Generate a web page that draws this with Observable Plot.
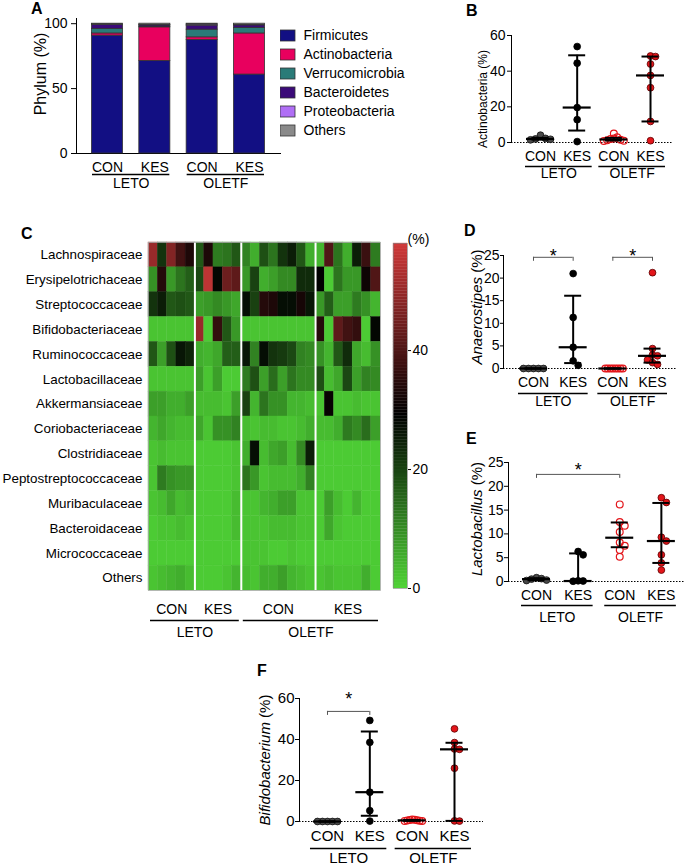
<!DOCTYPE html>
<html><head><meta charset="utf-8">
<script src="https://cdn.jsdelivr.net/npm/d3@7"></script>
<script src="https://cdn.jsdelivr.net/npm/@observablehq/plot@0.6"></script>
<style>
body{margin:0;background:#fff;font-family:"Liberation Sans",Arial,Helvetica,sans-serif}
#fig{position:relative;width:685px;height:865px;overflow:hidden;background:#fff}
.panel{position:absolute}
.letter{position:absolute;font-weight:bold;font-size:16px;line-height:1;color:#000}
</style></head>
<body><div id="fig"></div>
<script>
// ---------------- shared categories ----------------
const conditions = ["CON", "KES", "CON", "KES"];
const strains = ["LETO", "OLETF"];

// ---------------- Panel A: phylum composition (%) ----------------
const phyla = ["Firmicutes", "Actinobacteria", "Verrucomicrobia", "Bacteroidetes", "Proteobacteria", "Others"];
const phylumColors = ["#120f83", "#e8005e", "#2a7b78", "#3b0a78", "#b06ff5", "#8a8a8a"];
const firmicutes      = [90.8, 71.3, 87.4, 60.8];
const actinobacteria  = [1.7, 25.9, 2.1, 31.7];
const verrucomicrobia = [3.5, 0.5, 5.9, 4.2];
const bacteroidetes   = [3.0, 1.0, 3.1, 2.0];
const proteobacteria  = [0.3, 0.3, 0.8, 0.3];
const othersPhylum    = [0.7, 1.0, 0.7, 1.0];

// ---------------- Panel B: Actinobacteria (%) ----------------
const actinoLetoCon  = [4.1, 2.3, 2.0, 1.8, 1.5];
const actinoLetoKes  = [53.8, 44.5, 19.6, 12.8, 0.5];
const actinoOletfCon = [5.0, 2.9, 2.2, 1.9, 1.5, 1.2, 1.0, 0.8];
const actinoOletfKes = [48.5, 48.2, 44.0, 37.6, 30.7, 11.8, 1.0];
const actinoMedian = [2.0, 19.6, 1.7, 37.6];
const actinoQ1     = [1.6, 6.7, 1.1, 11.8];
const actinoQ3     = [2.6, 48.9, 2.6, 48.2];

// ---------------- Panel C: family heatmap (%) ----------------
const families = ["Lachnospiraceae", "Erysipelotrichaceae", "Streptococcaceae", "Bifidobacteriaceae",
  "Ruminococcaceae", "Lactobacillaceae", "Akkermansiaceae", "Coriobacteriaceae", "Clostridiaceae",
  "Peptostreptococcaceae", "Muribaculaceae", "Bacteroidaceae", "Micrococcaceae", "Others"];
const heatGroupSizes = [5, 5, 8, 7];
const heatmapValues = [
  [50,22,47,38,33, 17,33,12,13,17, 11,5,18,13,22,25,17,5, 4,40,13,5,25,37,12],
  [9,34,8,13,16, 19,55,28,44,42, 8,20,5,7,10,10,23,23, 29,1,13,8,8,31,40],
  [22,25,17,18,17, 7,8,10,8,6, 27,20,34,33,27,27,32,26, 8,16,7,7,12,9,4],
  [2,2,2,2,2, 50,1,36,17,8, 2,2,2,2,2,2,2,2, 34,1,42,38,36,1,28],
  [17,7,18,26,24, 5,4,6,16,16, 26,11,27,22,21,19,11,10, 9,4,17,23,6,3,9],
  [2,2,2,2,2, 7,2,7,1,1, 12,18,7,14,7,13,10,10, 18,3,6,19,7,11,10],
  [7,7,5,5,7, 3,3,3,2,7, 20,4,13,9,9,4,4,3, 2,30,2,2,3,2,2],
  [4,6,4,3,3, 6,2,9,9,11, 3,2,3,3,2,2,3,5, 3,3,5,12,10,14,7],
  [2,3,2,2,2, 1,1,1,1,2, 5,27,3,6,7,3,10,25, 1,1,1,1,1,1,1],
  [2,12,9,8,8, 1,1,1,1,2, 13,8,2,3,3,3,5,11, 1,1,1,1,1,1,1],
  [2,3,6,3,4, 1,1,1,1,3, 2,2,4,5,7,7,2,2, 1,7,3,1,4,1,1],
  [1,2,2,3,2, 1,1,1,1,3, 2,2,2,3,3,3,2,2, 1,6,2,1,1,1,1],
  [1,1,1,1,1, 1,1,1,1,1, 2,2,2,1,1,2,1,1, 1,1,1,1,1,1,1],
  [2,3,4,5,3, 1,1,1,2,4, 3,2,5,5,7,4,3,2, 2,3,2,2,2,5,1]
];
const heatTicks = [0, 20, 40];

// ---------------- Panel D: Anaerostipes (%) ----------------
const anaeroLetoCon  = [0, 0, 0, 0, 0];
const anaeroLetoKes  = [21.0, 11.3, 4.7, 1.7, 0.7];
const anaeroOletfCon = [0, 0, 0, 0, 0, 0, 0, 0];
const anaeroOletfKes = [21.2, 4.4, 3.0, 2.8, 1.9, 1.3, 0.9];
const anaeroMedian = [0, 4.7, 0, 2.8];
const anaeroQ1     = [0, 1.2, 0, 1.3];
const anaeroQ3     = [0, 16.1, 0, 4.4];

// ---------------- Panel E: Lactobacillus (%) ----------------
const lactoLetoCon  = [0.8, 0.6, 0.5, 0.3, 0.2];
const lactoLetoKes  = [6.3, 5.6, 0.15, 0.1, 0.05];
const lactoOletfCon = [16.2, 12.5, 11.7, 10.4, 8.2, 7.5, 6.6, 5.2];
const lactoOletfKes = [17.6, 16.6, 9.3, 8.5, 5.6, 3.9, 2.4];
const lactoMedian = [0.5, 0.1, 9.2, 8.5];
const lactoQ1     = [0.25, 0.05, 7.2, 3.9];
const lactoQ3     = [0.7, 5.9, 12.4, 16.5];

// ---------------- Panel F: Bifidobacterium (%) ----------------
const bifidoLetoCon  = [0, 0, 0, 0, 0];
const bifidoLetoKes  = [49.3, 38.6, 14.3, 5.3, 0.2];
const bifidoOletfCon = [1.0, 0.8, 0.7, 0.6, 0.5, 0.4, 0.3, 0.2];
const bifidoOletfKes = [45.2, 38.5, 35.4, 35.2, 26.0, 0.3, 0.2];
const bifidoMedian = [0, 14.3, 0.55, 35.2];
const bifidoQ1     = [0, 2.8, 0.3, 0.3];
const bifidoQ3     = [0, 43.9, 0.75, 38.4];

// =================================================================
const FONT = '"Liberation Sans", Arial, Helvetica, sans-serif';
const fig = document.getElementById("fig");
function place(node, left, top, width) {
  const div = document.createElement("div");
  div.className = "panel";
  div.style.left = left + "px"; div.style.top = top + "px";
  if (width) div.style.width = width + "px";
  div.appendChild(node); fig.appendChild(div);
}
function letter(t, left, top) {
  const d = document.createElement("div");
  d.className = "letter"; d.textContent = t;
  d.style.left = left + "px"; d.style.top = top + "px";
  fig.appendChild(d);
}
const strainPairs = strains.map((s, k) => ({strain: s, a: 2 * k, b: 2 * k + 1}));

// ---------------- Panel A ----------------
const phylumSeries = [firmicutes, actinobacteria, verrucomicrobia, bacteroidetes, proteobacteria, othersPhylum];
const stackA = [];
conditions.forEach((c, i) => {
  let acc = 0;
  phyla.forEach((p, k) => {
    const v = phylumSeries[k][i];
    stackA.push({i, phylum: p, y1: acc, y2: acc + v});
    acc += v;
  });
});
const halfBar = 0.328;
place(Plot.plot({
  width: 300, height: 195, marginLeft: 76, marginRight: 20, marginTop: 18, marginBottom: 42,
  style: {fontFamily: FONT, fontSize: "14px", background: "transparent", color: "#000"},
  x: {domain: [-0.655, 3.655], ticks: [0, 1, 2, 3], tickFormat: i => conditions[i], tickSize: 0, tickPadding: 9, line: true, label: null},
  y: {domain: [0, 104], ticks: [0, 50, 100], tickSize: 5, tickPadding: 4, line: true, label: null},
  color: {domain: phyla, range: phylumColors},
  marks: [
    Plot.rect(stackA, {x1: d => d.i - halfBar, x2: d => d.i + halfBar, y1: "y1", y2: "y2", fill: "phylum", stroke: "#333", strokeWidth: 0.8}),
    Plot.ruleY(strainPairs, {y: 0, x1: "a", x2: "b", dy: 21, insetLeft: -15, insetRight: -15, strokeWidth: 1.3}),
    Plot.text(strainPairs, {x: d => (d.a + d.b) / 2, y: 0, dy: 30, text: "strain"}),
    Plot.text(["Phylum (%)"], {frameAnchor: "left", textAnchor: "middle", rotate: -90, dx: -36, dy: -12, fontSize: 16})
  ]
}), 0, 0, 300);

place(Plot.plot({
  width: 140, height: 145, marginLeft: 0, marginRight: 125, marginTop: 23, marginBottom: 3,
  style: {fontFamily: FONT, fontSize: "14px", background: "transparent", color: "#000"},
  y: {domain: phyla, axis: null, paddingInner: 0.445, paddingOuter: 0.2225},
  color: {domain: phyla, range: phylumColors},
  marks: [
    Plot.cell(phyla, {y: d => d, fill: d => d, stroke: "#333", strokeWidth: 0.8}),
    Plot.text(phyla, {y: d => d, text: d => d, frameAnchor: "right", textAnchor: "start", dx: 8})
  ]
}), 280, 0, 140);

// ---------------- dot plot helper ----------------
function dodge(vals, pxPerUnit, step = 5, maxHalf = 10) {
  const order = d3.range(vals.length).sort((a, b) => vals[b] - vals[a]);
  const placed = [], off = new Array(vals.length);
  for (const i of order) {
    const y = vals[i] * pxPerUnit;
    for (let k = 0; k < 100; k++) {
      const cand = k === 0 ? 0 : (k % 2 ? 1 : -1) * Math.ceil(k / 2) * step;
      if (placed.every(p => Math.hypot(p.x - cand, p.y - y) >= step - 0.01)) {
        off[i] = cand; placed.push({x: cand, y}); break;
      }
    }
  }
  const m = d3.max(off, Math.abs);
  if (m > maxHalf) for (let i = 0; i < off.length; i++) off[i] *= maxHalf / m;
  return off;
}
const dotStyles = [
  {fill: "#4a4a4a", stroke: "#111", strokeWidth: 0.8},
  {fill: "#000", stroke: "#000", strokeWidth: 0.8},
  {fill: "none", stroke: "#e3151a", strokeWidth: 1.2},
  {fill: "#e3151a", stroke: "#5a0000", strokeWidth: 0.8}
];
function dotPanel(cfg) {
  const {left, top, width, height, marginLeft, marginRight, marginTop, marginBottom, xDomain,
    yMax, yTicks, groups, median, q1, q3, label, italic, labelDx, labelDy, labelSize,
    brackets = [], starDy = -2, tickSize = 4, tickPadding = 2, ulDy, glDy, ulInset = 15, fontSize = 14} = cfg;
  const pxPerUnit = (height - marginTop - marginBottom) / yMax;
  const pxPerIndex = (width - marginLeft - marginRight) / (xDomain[1] - xDomain[0]);
  const points = groups.flatMap((vals, g) => {
    const off = dodge(vals, pxPerUnit);
    return vals.map((v, j) => ({g, v, x: g + off[j] / pxPerIndex}));
  });
  const stats = conditions.map((c, g) => ({g, med: median[g], q1: q1[g], q3: q3[g]}));
  const svg = Plot.plot({
    width, height, marginLeft, marginRight, marginTop, marginBottom,
    style: {fontFamily: FONT, fontSize: fontSize + "px", background: "transparent", color: "#000"},
    x: {domain: xDomain, ticks: [0, 1, 2, 3], tickFormat: i => conditions[i], tickSize: 0, tickPadding: 9, label: null},
    y: {domain: [0, yMax], ticks: yTicks, tickSize, tickPadding, line: true, label: null},
    marks: [
      Plot.ruleY([0], {stroke: "#000", strokeWidth: 1, strokeDasharray: "1.5,1.5"}),
      ...dotStyles.map((s, g) => Plot.dot(points.filter(p => p.g === g), {x: "x", y: "v", r: 3.4, ...s})),
      Plot.ruleX(stats, {x: "g", y1: "q1", y2: "q3", strokeWidth: 2}),
      Plot.ruleY(stats, {y: "q1", x1: "g", x2: "g", insetLeft: -8.5, insetRight: -8.5, strokeWidth: 2}),
      Plot.ruleY(stats, {y: "q3", x1: "g", x2: "g", insetLeft: -8.5, insetRight: -8.5, strokeWidth: 2}),
      Plot.ruleY(stats, {y: "med", x1: "g", x2: "g", insetLeft: -14, insetRight: -14, strokeWidth: 2.2}),
      Plot.ruleY(brackets, {y: "level", x1: "a", x2: "b", stroke: "#555", strokeWidth: 1}),
      Plot.ruleX(brackets, {x: "a", y1: "level", y2: "level", insetBottom: -4, stroke: "#555", strokeWidth: 1}),
      Plot.ruleX(brackets, {x: "b", y1: "level", y2: "level", insetBottom: -4, stroke: "#555", strokeWidth: 1}),
      Plot.text(brackets, {x: d => (d.a + d.b) / 2, y: "level", text: () => "*", dy: starDy, fontSize: 18}),
      Plot.ruleY(strainPairs, {y: 0, x1: "a", x2: "b", dy: ulDy, insetLeft: -ulInset, insetRight: -ulInset, strokeWidth: 1.3}),
      Plot.text(strainPairs, {x: d => (d.a + d.b) / 2, y: 0, dy: glDy, text: "strain"}),
      Plot.text([label], {frameAnchor: "left", textAnchor: "middle", rotate: -90, dx: labelDx, dy: labelDy, fontSize: labelSize})
    ]
  });
  if (italic) {
    const ns = "http://www.w3.org/2000/svg";
    svg.querySelectorAll("text").forEach(t => {
      if (t.textContent === label) {
        t.textContent = "";
        const a = document.createElementNS(ns, "tspan");
        a.setAttribute("font-style", "italic"); a.textContent = italic;
        const b = document.createElementNS(ns, "tspan");
        b.textContent = label.slice(italic.length);
        t.append(a, b);
      }
    });
  }
  place(svg, left, top, width);
}

// ---------------- Panel B ----------------
dotPanel({
  left: 440, top: 0, width: 245, height: 190, marginLeft: 71, marginRight: 12, marginTop: 35, marginBottom: 48,
  xDomain: [-0.791, 3.627], yMax: 60, yTicks: [0, 20, 40, 60],
  groups: [actinoLetoCon, actinoLetoKes, actinoOletfCon, actinoOletfKes],
  median: actinoMedian, q1: actinoQ1, q3: actinoQ3,
  label: "Actinobacteria (%)", labelDx: -28, labelDy: 10, labelSize: 12,
  tickSize: 4, tickPadding: 2, ulDy: 24, glDy: 31
});

// ---------------- Panel C ----------------
const heatColor = {type: "linear", domain: [0, 29, 58], range: ["#4fd236", "#000000", "#d23a3a"], interpolate: "rgb"};
const groupStarts = d3.cumsum([0, ...heatGroupSizes]);
const heatCells = families.flatMap((f, r) => heatmapValues[r].map((v, c) => ({r, c, v})));
const heatGroups = conditions.map((c, k) => ({cond: c, mid: (groupStarts[k] + groupStarts[k + 1]) / 2}));
const heatPairs = strains.map((s, k) => ({strain: s, a: groupStarts[2 * k], b: groupStarts[2 * k + 2]}));
const heatSvg = Plot.plot({
  width: 390, height: 420, marginLeft: 148, marginRight: 10, marginTop: 12, marginBottom: 60,
  style: {fontFamily: FONT, fontSize: "14px", background: "transparent", color: "#000"},
  x: {domain: [0, heatmapValues[0].length], axis: null},
  y: {domain: [0, families.length], reverse: true, ticks: d3.range(families.length).map(i => i + 0.5),
      tickFormat: v => families[Math.floor(v)], tickSize: 0, tickPadding: 6, label: null},
  color: heatColor,
  marks: [
    Plot.rect(heatCells, {x1: "c", x2: d => d.c + 1, y1: "r", y2: d => d.r + 1, fill: "v", stroke: "v", strokeWidth: 0.4}),
    Plot.ruleX(groupStarts.slice(1, -1), {stroke: "white", strokeWidth: 2}),
    Plot.frame({stroke: "#aaa", strokeWidth: 0.8}),
    Plot.text(heatGroups, {x: "mid", y: families.length, dy: 19, text: "cond"}),
    Plot.ruleY(heatPairs, {y: families.length, x1: "a", x2: "b", dy: 30, insetLeft: 2, insetRight: 2, strokeWidth: 1.3}),
    Plot.text(heatPairs, {x: d => (d.a + d.b) / 2, y: families.length, dy: 42, text: "strain"})
  ]
});
// row labels slightly smaller so the longest family name fits
heatSvg.querySelectorAll('g[aria-label="y-axis tick label"] text').forEach(t => t.setAttribute("font-size", "13.4px"));
place(heatSvg, 0, 230, 390);

place(Plot.plot({
  width: 60, height: 375, marginLeft: 13, marginRight: 33, marginTop: 18, marginBottom: 12,
  style: {fontFamily: FONT, fontSize: "14px", background: "transparent", color: "#000"},
  y: {domain: [0, 58], axis: "right", ticks: heatTicks, tickSize: 3, tickPadding: 2, label: null},
  color: heatColor,
  marks: [
    Plot.rect(d3.range(0, 58, 0.5), {y1: d => d, y2: d => d + 0.5, fill: d => d, stroke: d => d, strokeWidth: 0.3}),
    Plot.frame({stroke: "#888", strokeWidth: 0.6}),
    Plot.text(["(%)"], {frameAnchor: "top-right", textAnchor: "middle", dx: 11, dy: -9})
  ]
}), 380, 225, 60);

// ---------------- Panel D ----------------
dotPanel({
  left: 440, top: 200, width: 245, height: 220, marginLeft: 63, marginRight: 8, marginTop: 55, marginBottom: 52,
  xDomain: [-0.756, 3.63], yMax: 25, yTicks: [0, 5, 10, 15, 20, 25],
  groups: [anaeroLetoCon, anaeroLetoKes, anaeroOletfCon, anaeroOletfKes],
  median: anaeroMedian, q1: anaeroQ1, q3: anaeroQ3,
  label: "Anaerostipes (%)", italic: "Anaerostipes", labelDx: -26, labelDy: -5, labelSize: 15,
  brackets: [{a: 0, b: 1, level: 24.6}, {a: 2, b: 3, level: 24.6}], starDy: -1,
  tickSize: 3, tickPadding: 1, ulDy: 25, glDy: 33
});

// ---------------- Panel E ----------------
dotPanel({
  left: 440, top: 420, width: 245, height: 215, marginLeft: 68, marginRight: 0, marginTop: 42, marginBottom: 54,
  xDomain: [-0.673, 3.58], yMax: 25, yTicks: [0, 5, 10, 15, 20, 25],
  groups: [lactoLetoCon, lactoLetoKes, lactoOletfCon, lactoOletfKes],
  median: lactoMedian, q1: lactoQ1, q3: lactoQ3,
  label: "Lactobacillus (%)", italic: "Lactobacillus", labelDx: -31, labelDy: -3, labelSize: 15,
  brackets: [{a: 0, b: 2, level: 22.5}], starDy: -4,
  tickSize: 4, tickPadding: 1, ulDy: 24, glDy: 36
});

// ---------------- Panel F ----------------
dotPanel({
  left: 180, top: 650, width: 320, height: 215, marginLeft: 119, marginRight: 17, marginTop: 48, marginBottom: 44,
  xDomain: [-0.661, 3.685], yMax: 60, yTicks: [0, 20, 40, 60],
  groups: [bifidoLetoCon, bifidoLetoKes, bifidoOletfCon, bifidoOletfKes],
  median: bifidoMedian, q1: bifidoQ1, q3: bifidoQ3,
  label: "Bifidobacterium (%)", italic: "Bifidobacterium", labelDx: -34, labelDy: 0, labelSize: 15,
  brackets: [{a: 0, b: 1, level: 53.7}], starDy: -12,
  tickSize: 4, tickPadding: 1, ulDy: 27, glDy: 37, ulInset: 17, fontSize: 15
});

// ---------------- panel letters ----------------
letter("A", 31, 1);
letter("B", 466, 3);
letter("C", 21, 226);
letter("D", 464, 223);
letter("E", 466, 431);
letter("F", 257, 663);
</script>
</body></html>
